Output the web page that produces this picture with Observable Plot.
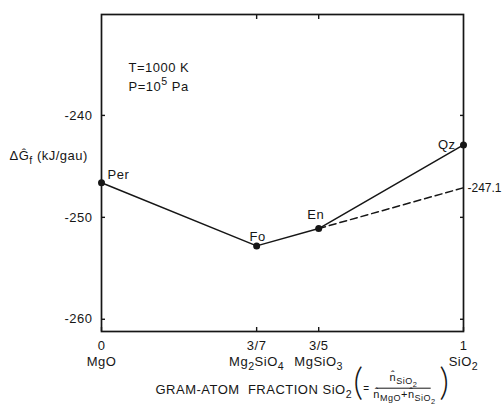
<!DOCTYPE html>
<html><head><meta charset="utf-8">
<script src="https://cdn.jsdelivr.net/npm/d3@7"></script>
<script src="https://cdn.jsdelivr.net/npm/@observablehq/plot@0.6"></script>
<style>
body{margin:0;background:#fff}
</style>
</head><body><div id="chart"></div>
<script>
// ---- data ----
const phases = ["Per", "Fo", "En", "Qz"];
const fractions = [0, 3/7, 3/5, 1];
const deltaG = [-246.6, -252.8, -251.1, -242.9];
const metastableX = [3/5, 1];
const metastableG = [-251.1, -247.1];
const xTicks = [0, 3/7, 3/5, 1];
const xTickLabels = ["0", "3/7", "3/5", "1"];
const compounds = ["MgO", "Mg_2SiO_4", "MgSiO_3", "SiO_2"];
const yTicks = [-240, -250, -260];
const conditions = ["T=1000 K", "P=10^5 Pa"];
const yTitle = "ΔĜ_f (kJ/gau)";
const xTitle = "GRAM-ATOM  FRACTION SiO_2";
const fracNum = "n\u0302_{SiO_2}";
const fracDen = "n\u0302_{MgO}+n\u0302_{SiO_2}";

const points = phases.map((p, i) => ({phase: p, x: fractions[i], g: deltaG[i]}));
const dashed = metastableX.map((x, i) => ({x, g: metastableG[i]}));

const labelStyle = {
  Per: {dx: 6, dy: -8, textAnchor: "start"},
  Fo: {dx: 1, dy: -9, textAnchor: "middle"},
  En: {dx: -3, dy: -14, textAnchor: "middle"},
  Qz: {dx: -8, dy: 0, textAnchor: "end"}
};
const ink = "#161616";
const mathStyle = {frameAnchor: "bottom-left", textAnchor: "middle", lineAnchor: "middle", fill: ink};
const parenStyle = {...mathStyle, fontSize: 38, fontFamily: "Lato", fontWeight: 300};

const chart = Plot.plot({
  width: 502, height: 405,
  marginLeft: 101, marginRight: 39, marginTop: 14, marginBottom: 74,
  style: {fontFamily: '"Liberation Sans", Arial, sans-serif', fontSize: "13px", letterSpacing: "0.5px", background: "#fff", color: ink},
  x: {domain: [0, 1]},
  y: {domain: [-261.2, -230.1]},
  marks: [
    Plot.frame({stroke: ink, strokeWidth: 1.7}),
    Plot.axisY(yTicks, {anchor: "left", tickSize: -4, tickPadding: 13, strokeWidth: 1.4, tickFormat: d => String(d), label: null}),
    Plot.axisY(yTicks, {anchor: "right", tickSize: -4, strokeWidth: 1.4, tickFormat: () => "", label: null}),
    Plot.axisX(xTicks, {anchor: "bottom", tickSize: -4, tickPadding: 13, strokeWidth: 1.4, tickFormat: d => xTickLabels[xTicks.indexOf(d)], label: null}),
    Plot.axisX(xTicks, {anchor: "bottom", tickSize: 0, tickPadding: 25, tickFormat: d => compounds[xTicks.indexOf(d)], label: null}),
    Plot.axisX(xTicks.slice(1, 3), {anchor: "top", tickSize: -4, strokeWidth: 1.4, tickFormat: () => "", label: null}),
    Plot.line(points, {x: "x", y: "g", stroke: ink, strokeWidth: 1.5}),
    Plot.line(dashed, {x: "x", y: "g", stroke: ink, strokeWidth: 1.5, strokeDasharray: "7,4"}),
    Plot.dot(points, {x: "x", y: "g", r: 3.5, fill: ink}),
    ...phases.map(p => Plot.text(points.filter(d => d.phase === p), {x: "x", y: "g", text: "phase", fill: ink, ...labelStyle[p]})),
    Plot.text(dashed.slice(-1), {x: "x", y: "g", text: d => String(d.g), dx: 4, textAnchor: "start", fontSize: 12, fill: ink, className: "tight"}),
    Plot.text([conditions[0]], {frameAnchor: "top-left", dx: 27, dy: 53, textAnchor: "start", lineAnchor: "middle", fill: ink}),
    Plot.text([conditions[1]], {frameAnchor: "top-left", dx: 27, dy: 72, textAnchor: "start", lineAnchor: "middle", fill: ink}),
    Plot.text([yTitle], {frameAnchor: "top-left", dx: -92, dy: 141, textAnchor: "start", lineAnchor: "middle", fill: ink}),
    Plot.text([xTitle], {frameAnchor: "bottom-left", dx: 54, dy: 58, textAnchor: "start", lineAnchor: "middle", fill: ink}),
    Plot.text(["("], {...parenStyle, dx: 257, dy: 51}),
    Plot.text([")"], {...parenStyle, dx: 343, dy: 51}),
    Plot.text(["="], {...mathStyle, dx: 265, dy: 57, fontSize: 10}),
    Plot.text([fracNum], {...mathStyle, dx: 302, dy: 46, fontSize: 11}),
    Plot.text([fracDen], {...mathStyle, dx: 303, dy: 63, fontSize: 11, className: "den"})
  ]
});
document.getElementById("chart").appendChild(chart);
chart.querySelectorAll(".tight text").forEach(t => t.style.letterSpacing = "0px");

// turn _x / ^x markup into sub/superscript tspans
function parseRich(str, base) {
  const out = [];
  function walk(s, shift, size) {
    let i = 0, buf = "";
    const flush = () => { if (buf) { out.push({text: buf, shift, size}); buf = ""; } };
    while (i < s.length) {
      const c = s[i];
      if ((c === "_" || c === "^") && i + 1 < s.length) {
        flush();
        let arg;
        if (s[i + 1] === "{") {
          let depth = 1, j = i + 2;
          while (j < s.length && depth) { if (s[j] === "{") depth++; else if (s[j] === "}") depth--; j++; }
          arg = s.slice(i + 2, j - 1); i = j;
        } else { arg = s[i + 1]; i += 2; }
        walk(arg, c === "_" ? shift + 0.3 * size : shift - 0.42 * size, size * 0.82);
      } else { buf += c; i++; }
    }
    flush();
  }
  walk(str, 0, base);
  return out;
}
const SVGNS = "http://www.w3.org/2000/svg";
chart.querySelectorAll("text").forEach(t => {
  if (t.children.length) return;
  const s = t.textContent;
  if (!/[_^]/.test(s)) return;
  const base = parseFloat(getComputedStyle(t).fontSize) || 13;
  t.textContent = "";
  let cur = 0;
  for (const tok of parseRich(s, base)) {
    const ts = document.createElementNS(SVGNS, "tspan");
    ts.setAttribute("dy", (tok.shift - cur).toFixed(2));
    ts.setAttribute("font-size", tok.size.toFixed(2));
    ts.textContent = tok.text;
    cur = tok.shift;
    t.appendChild(ts);
  }
});

// fraction bar sized from the rendered denominator
const den = chart.querySelector(".den text");
if (den) {
  const bb = den.getBBox();
  const bar = document.createElementNS(SVGNS, "line");
  bar.setAttribute("x1", bb.x + 3);
  bar.setAttribute("x2", bb.x + bb.width - 5);
  bar.setAttribute("y1", bb.y + 1);
  bar.setAttribute("y2", bb.y + 1);
  bar.setAttribute("stroke", ink);
  bar.setAttribute("stroke-width", 1);
  if (den.getAttribute("transform")) bar.setAttribute("transform", den.getAttribute("transform"));
  den.parentNode.appendChild(bar);
}
</script>
</body></html>
